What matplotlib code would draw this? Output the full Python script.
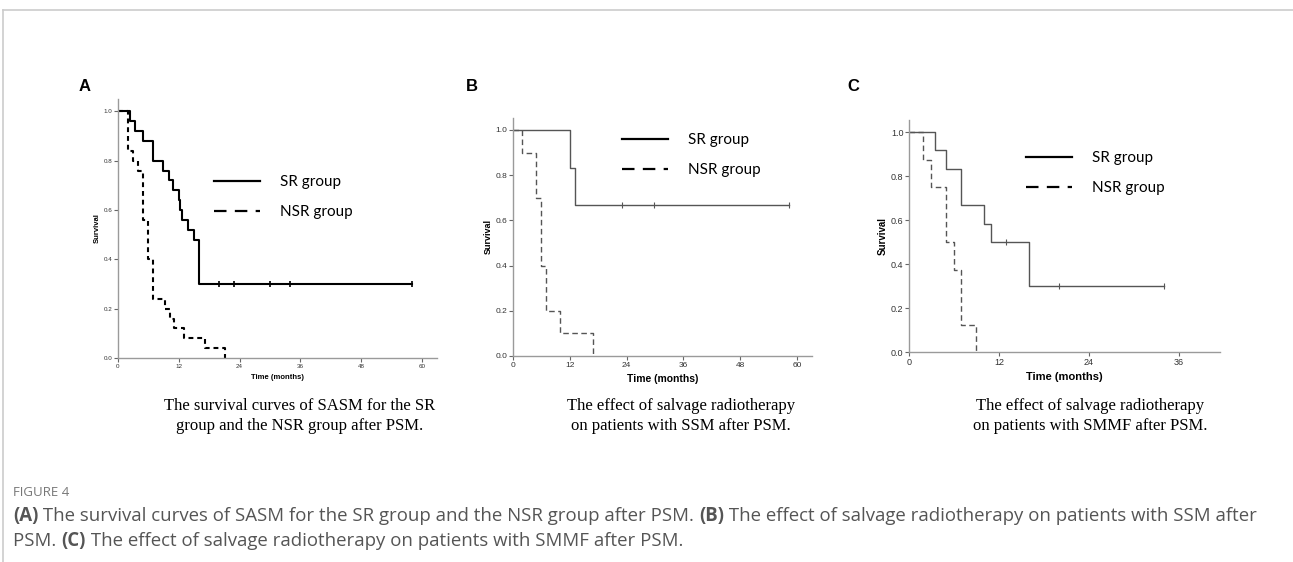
"""
Figure 4: Kaplan-Meier survival curves, SR vs NSR group, three panels.
"""

import matplotlib
matplotlib.use('Agg')
import matplotlib.pyplot as plt
from matplotlib.lines import Line2D
import numpy as np

# ---- data (months, survival) ----
# panel A
A_SR_T = [0, 2.3, 3.3, 4.9, 6.9, 8.8, 10.0, 10.9, 12.0, 12.3, 12.7, 13.8, 15.0, 15.9, 58.0]
A_SR_S = [1.0, 0.96, 0.92, 0.88, 0.80, 0.76, 0.72, 0.68, 0.64, 0.60, 0.56, 0.52, 0.48, 0.30, 0.30]
A_SR_CENS = [20.0, 23.0, 30.0, 34.0, 58.0]
A_NSR_T = [0, 1.9, 2.9, 3.9, 4.9, 5.9, 7.0, 9.2, 10.2, 11.1, 13.1, 17.1, 21.1]
A_NSR_S = [1.0, 0.84, 0.80, 0.76, 0.56, 0.40, 0.24, 0.20, 0.16, 0.12, 0.08, 0.04, 0.0]

# panel B
B_SR_T = [0, 12.0, 13.1, 58.3]
B_SR_S = [1.0, 0.833, 0.667, 0.667]
B_SR_CENS = [23.1, 29.9, 58.3]
B_NSR_T = [0, 1.9, 4.9, 5.9, 7.0, 10.0, 17.0]
B_NSR_S = [1.0, 0.9, 0.7, 0.4, 0.2, 0.1, 0.0]

# panel C
C_SR_T = [0, 3.5, 5.0, 7.0, 10.0, 11.0, 16.0, 34.0]
C_SR_S = [1.0, 0.917, 0.833, 0.667, 0.583, 0.50, 0.30, 0.30]
C_SR_CENS = [13.0, 20.0, 34.0]
C_NSR_T = [0, 1.9, 3.0, 5.0, 6.0, 7.0, 9.0]
C_NSR_S = [1.0, 0.875, 0.75, 0.5, 0.375, 0.125, 0.0]

SUBCAPTIONS = [
    "The survival curves of SASM for the SR\ngroup and the NSR group after PSM.",
    "The effect of salvage radiotherapy\non patients with SSM after PSM.",
    "The effect of salvage radiotherapy\non patients with SMMF after PSM.",
]

CAPTION_LINES = [
    [("(A)", True), (" The survival curves of SASM for the SR group and the NSR group after PSM. ", False),
     ("(B)", True), (" The effect of salvage radiotherapy on patients with SSM after", False)],
    [("PSM. ", False), ("(C)", True), (" The effect of salvage radiotherapy on patients with SMMF after PSM.", False)],
]

W, H = 1293, 562
plt.rcParams['lines.scale_dashes'] = False


def px(x, y):
    """pixel (from top-left) -> figure fraction"""
    return x / W, 1 - y / H


def step_value(times, surv, t):
    idx = np.searchsorted(times, t, side='right') - 1
    return np.asarray(surv)[idx]


def km_panel(fig, rect, sr, nsr, cens, xmax, ymax, xticks, style, leg_anchor):
    ax = fig.add_axes(rect)
    col, lw, dash, tick_fs, lab_fs, time_fs = style
    ax.step(sr[0], sr[1], where='post', color=col, lw=lw)
    ax.step(nsr[0], nsr[1], where='post', color=col, lw=lw, linestyle=(0, dash))
    ax.plot(cens, step_value(sr[0], sr[1], cens), ls='none', marker='|',
            color=col, markersize=5, markeredgewidth=lw * 0.8)

    ax.set_xlim(0, xmax)
    ax.set_ylim(0, ymax)
    ax.set_xticks(xticks)
    ax.set_yticks([0.0, 0.2, 0.4, 0.6, 0.8, 1.0])
    ax.set_yticklabels(['0.0', '0.2', '0.4', '0.6', '0.8', '1.0'])
    for s in ('top', 'right'):
        ax.spines[s].set_visible(False)
    for s in ('left', 'bottom'):
        ax.spines[s].set_color('#9a9a9a')
        ax.spines[s].set_linewidth(1.0)
    ax.tick_params(length=3, width=0.8, color='#666666', labelsize=tick_fs,
                   labelcolor='#333333', pad=1)
    ax.set_ylabel('Survival', fontsize=lab_fs, fontweight='bold', labelpad=2,
                  family='Liberation Sans')
    ax.set_xlabel('Time (months)', fontsize=time_fs, fontweight='bold', labelpad=4,
                  family='Liberation Sans')
    for t in ax.get_xticklabels() + ax.get_yticklabels():
        t.set_family('Liberation Sans')

    handles = [Line2D([], [], color='black', lw=1.6),
               Line2D([], [], color='black', lw=1.6, linestyle=(0, (9, 6)))]
    ax.legend(handles, ['SR group', 'NSR group'], loc='upper left',
              bbox_to_anchor=px(*leg_anchor), bbox_transform=fig.transFigure,
              frameon=False, handlelength=3.0, handletextpad=1.35,
              labelspacing=1.05, borderpad=0, borderaxespad=0,
              prop={'family': 'Lato', 'size': 11})
    return ax


def draw_runs(fig, x, y, runs, **kw):
    r = fig.canvas.get_renderer()
    for text, bold in runs:
        t = fig.text(x / W, 1 - y / H, text, fontweight='bold' if bold else 'normal',
                     va='center', ha='left', **kw)
        bb = t.get_window_extent(renderer=r)
        x += bb.width


def main():
    fig = plt.figure(figsize=(W / 100, H / 100), dpi=100)

    # page frame
    fig.add_artist(Line2D([3 / W, 1], [1 - 10 / H, 1 - 10 / H], color='#cccccc', lw=1.2))
    fig.add_artist(Line2D([3 / W, 3 / W], [0, 1 - 10 / H], color='#cccccc', lw=1.2))

    # panel A
    km_panel(fig, [118 / W, 1 - 358 / H, 319 / W, 259 / H],
             (A_SR_T, A_SR_S), (A_NSR_T, A_NSR_S), A_SR_CENS,
             63, 1.05, [0, 12, 24, 36, 48, 60],
             ('black', 1.5, (3.5, 2.8), 4.5, 5.5, 5.5), (214, 175))
    # panel B
    km_panel(fig, [513 / W, 1 - 356 / H, 299 / W, 238 / H],
             (B_SR_T, B_SR_S), (B_NSR_T, B_NSR_S), B_SR_CENS,
             63.2, 1.053, [0, 12, 24, 36, 48, 60],
             ('#555555', 1.0, (4, 2.5), 6, 6.5, 7.5), (622, 133))
    # panel C
    km_panel(fig, [909 / W, 1 - 352 / H, 311 / W, 232 / H],
             (C_SR_T, C_SR_S), (C_NSR_T, C_NSR_S), C_SR_CENS,
             41.5, 1.055, [0, 12, 24, 36],
             ('#555555', 1.0, (4, 2.5), 6.5, 7, 8), (1026, 151))

    for label, x in zip(['A', 'B', 'C'], [85, 472, 853]):
        fig.text(x / W, 1 - 86 / H, label, fontsize=12, fontweight='bold',
                 ha='center', va='center', family='Liberation Sans')

    for cap, x in zip(SUBCAPTIONS, [300, 681, 1090]):
        fig.text(x / W, 1 - 416 / H, cap, fontsize=12, ha='center', va='center',
                 family='Liberation Serif', linespacing=1.3)

    fig.text(13 / W, 1 - 492 / H, 'FIGURE 4', fontsize=9.5, color='#777777',
             ha='left', va='center', family='Open Sans')
    for runs, y in zip(CAPTION_LINES, [516, 541]):
        draw_runs(fig, 13, y, runs, fontsize=13.4, color='#555555', family='Open Sans')

    fig.savefig('out.png', dpi=100)


if __name__ == '__main__':
    main()
